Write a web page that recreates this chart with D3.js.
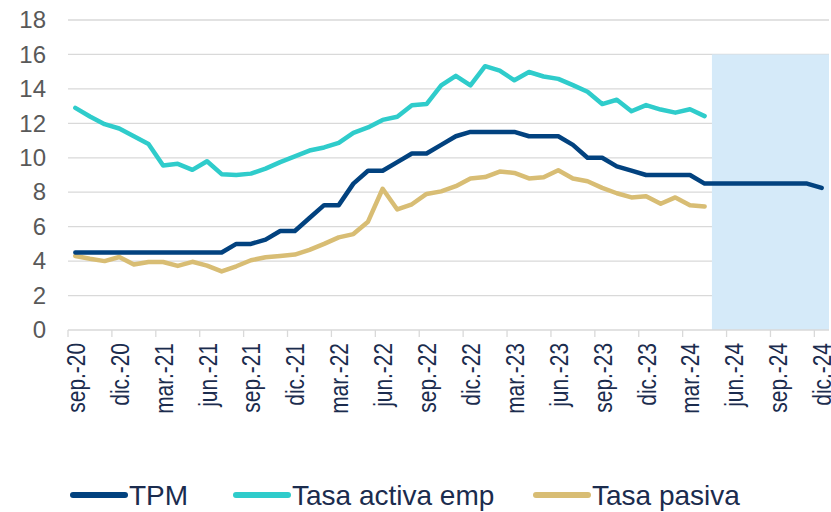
<!DOCTYPE html>
<html>
<head>
<meta charset="utf-8">
<script src="https://cdn.jsdelivr.net/npm/d3@7"></script>
<style>
  html, body { margin: 0; padding: 0; background: #fff; }
  svg { display: block; font-family: "Liberation Sans", Arial, sans-serif; }
</style>
</head>
<body>
<svg id="chart" width="831" height="512"></svg>
<script>
const months = [
  "sep.-20", "oct.-20", "nov.-20", "dic.-20",
  "ene.-21", "feb.-21", "mar.-21", "abr.-21", "may.-21", "jun.-21", "jul.-21", "ago.-21", "sep.-21", "oct.-21", "nov.-21", "dic.-21",
  "ene.-22", "feb.-22", "mar.-22", "abr.-22", "may.-22", "jun.-22", "jul.-22", "ago.-22", "sep.-22", "oct.-22", "nov.-22", "dic.-22",
  "ene.-23", "feb.-23", "mar.-23", "abr.-23", "may.-23", "jun.-23", "jul.-23", "ago.-23", "sep.-23", "oct.-23", "nov.-23", "dic.-23",
  "ene.-24", "feb.-24", "mar.-24", "abr.-24", "may.-24", "jun.-24", "jul.-24", "ago.-24", "sep.-24", "oct.-24", "nov.-24", "dic.-24"
];

const tickLabels = [
  "sep.-20", "dic.-20", "mar.-21", "jun.-21", "sep.-21", "dic.-21", "mar.-22", "jun.-22", "sep.-22",
  "dic.-22", "mar.-23", "jun.-23", "sep.-23", "dic.-23", "mar.-24", "jun.-24", "sep.-24", "dic.-24"
];

const tpm = [
  4.5, 4.5, 4.5, 4.5, 4.5, 4.5, 4.5, 4.5, 4.5, 4.5, 4.5, 5.0, 5.0, 5.25, 5.75, 5.75,
  6.5, 7.25, 7.25, 8.5, 9.25, 9.25, 9.75, 10.25, 10.25, 10.75, 11.25, 11.5,
  11.5, 11.5, 11.5, 11.25, 11.25, 11.25, 10.75, 10.0, 10.0, 9.5, 9.25, 9.0,
  9.0, 9.0, 9.0, 8.5, 8.5, 8.5, 8.5, 8.5, 8.5, 8.5, 8.5, 8.25
];

const tasaActiva = [
  12.9, 12.4, 11.95, 11.7, 11.25, 10.8, 9.55, 9.65, 9.3, 9.8, 9.05, 9.0, 9.08, 9.37, 9.75, 10.08,
  10.42, 10.6, 10.87, 11.45, 11.76, 12.2, 12.38, 13.05, 13.12, 14.2, 14.76, 14.2,
  15.32, 15.06, 14.5, 14.98, 14.72, 14.58, 14.22, 13.83, 13.12, 13.37, 12.7, 13.06,
  12.8, 12.62, 12.82, 12.42
];

const tasaPasiva = [
  4.3, 4.14, 4.0, 4.24, 3.8, 3.95, 3.95, 3.72, 3.96, 3.74, 3.4, 3.7, 4.05, 4.22, 4.3, 4.38,
  4.65, 5.0, 5.38, 5.57, 6.29, 8.2, 7.0, 7.3, 7.9, 8.05, 8.35, 8.8,
  8.88, 9.2, 9.12, 8.8, 8.87, 9.28, 8.8, 8.64, 8.25, 7.94, 7.7, 7.77,
  7.33, 7.7, 7.25, 7.17
];

const shadeFrom = "may.-24";
const shadeTop = 16;
const yTicks = [0, 2, 4, 6, 8, 10, 12, 14, 16, 18];

const series = [
  { name: "TPM", values: tpm, color: "#02427f" },
  { name: "Tasa activa emp", values: tasaActiva, color: "#2fcccb" },
  { name: "Tasa pasiva", values: tasaPasiva, color: "#d8bd74" }
];

const svg = d3.select("#chart");
const plot = { left: 68, right: 829, top: 20, bottom: 330 };

const x = d3.scaleBand().domain(months).range([plot.left, plot.right]).padding(0);
const y = d3.scaleLinear().domain([0, 18]).range([plot.bottom, plot.top]);
const cx = m => x(m) + x.bandwidth() / 2;

// gridlines
svg.append("g")
  .selectAll("line")
  .data(yTicks.filter(d => d > 0))
  .enter()
  .append("line")
  .attr("x1", plot.left)
  .attr("x2", plot.right)
  .attr("y1", d => y(d))
  .attr("y2", d => y(d))
  .attr("stroke", "#d9d9d9")
  .attr("stroke-width", 1.3);

// projection shading
svg.append("rect")
  .attr("x", x(shadeFrom))
  .attr("y", y(shadeTop))
  .attr("width", plot.right - x(shadeFrom))
  .attr("height", y(0) - y(shadeTop))
  .attr("fill", "#d5eaf9");

// y axis labels
const yAxis = d3.axisLeft(y).tickValues(yTicks).tickSize(0).tickPadding(0);
svg.append("g")
  .attr("transform", "translate(46, 0)")
  .call(yAxis)
  .call(g => g.select(".domain").remove())
  .selectAll("text")
  .attr("font-size", 24)
  .attr("font-family", "Liberation Sans, Arial, sans-serif")
  .attr("fill", "#595959");

// x axis: ticks on category boundaries every 3 months
const xAxisG = svg.append("g");
xAxisG.append("line")
  .attr("x1", plot.left).attr("x2", plot.right)
  .attr("y1", plot.bottom).attr("y2", plot.bottom)
  .attr("stroke", "#d9d9d9").attr("stroke-width", 1.3);

xAxisG.selectAll(".tick-mark")
  .data(tickLabels)
  .enter()
  .append("line")
  .attr("class", "tick-mark")
  .attr("x1", d => x(d)).attr("x2", d => x(d))
  .attr("y1", plot.bottom).attr("y2", plot.bottom + 7)
  .attr("stroke", "#d9d9d9").attr("stroke-width", 1.3);

// labels are drawn a bit taller than wide, like the original export
xAxisG.selectAll(".tick-label")
  .data(tickLabels)
  .enter()
  .append("text")
  .attr("class", "tick-label")
  .attr("transform", d => `translate(${cx(d)}, ${plot.bottom + 13}) rotate(-90) scale(0.95, 1.2)`)
  .attr("text-anchor", "end")
  .attr("dy", "0.36em")
  .attr("font-size", 22)
  .attr("fill", "#1b2c4e")
  .text(d => d);

// lines
const line = d3.line()
  .x((d, i) => cx(months[i]))
  .y(d => y(d));

svg.append("g")
  .selectAll("path")
  .data(series.slice().reverse())
  .enter()
  .append("path")
  .attr("d", d => line(d.values))
  .attr("fill", "none")
  .attr("stroke", d => d.color)
  .attr("stroke-width", 4.5)
  .attr("stroke-linejoin", "round")
  .attr("stroke-linecap", "round");

// legend
const legendX = [70, 233, 533];
const legend = svg.append("g").attr("transform", "translate(0, 495)");
const item = legend.selectAll("g")
  .data(series)
  .enter()
  .append("g")
  .attr("transform", (d, i) => `translate(${legendX[i]}, 0)`);

item.append("line")
  .attr("x1", 3).attr("x2", 55)
  .attr("y1", 0).attr("y2", 0)
  .attr("stroke", d => d.color)
  .attr("stroke-width", 6)
  .attr("stroke-linecap", "round");

item.append("text")
  .attr("x", 59)
  .attr("dy", "0.36em")
  .attr("font-size", 28)
  .attr("fill", "#1b2c4e")
  .text(d => d.name);
</script>
</body>
</html>
